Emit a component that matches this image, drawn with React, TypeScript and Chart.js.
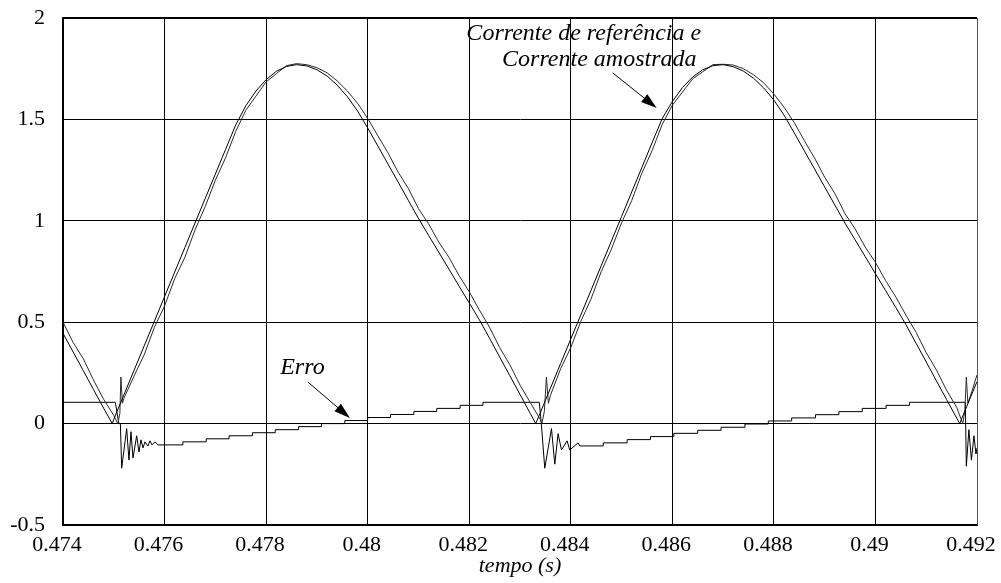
import React, { useEffect, useRef } from "react";
import { Chart, registerables } from "chart.js";

Chart.register(...registerables);

// ---------------- DATA ----------------
const xTicks = [0.474, 0.476, 0.478, 0.48, 0.482, 0.484, 0.486, 0.488, 0.49, 0.492];
const xTickLabels = ["0.474", "0.476", "0.478", "0.48", "0.482", "0.484", "0.486", "0.488", "0.49", "0.492"];
const yTicks = [-0.5, 0, 0.5, 1, 1.5, 2];
const yTickLabels = ["-0.5", "0", "0.5", "1", "1.5", "2"];

// Corrente de referência
const refTime = [
  0.4740, 0.4742, 0.4744, 0.4746, 0.4748, 0.47497, 0.4750, 0.4752, 0.4754, 0.4756,
  0.4758, 0.4760, 0.4762, 0.4764, 0.4766, 0.4768, 0.4770, 0.4772, 0.4774, 0.4776,
  0.4778, 0.4780, 0.4782, 0.4784, 0.4786, 0.4788, 0.4790, 0.4792, 0.4794, 0.4796,
  0.4798, 0.4800, 0.4802, 0.4804, 0.4806, 0.4808, 0.4810, 0.4812, 0.4814, 0.4816,
  0.4818, 0.4820, 0.4822, 0.4824, 0.4826, 0.4828, 0.4830, 0.4832, 0.48331, 0.4834,
  0.4836, 0.4838, 0.4840, 0.4842, 0.4844, 0.4846, 0.4848, 0.4850, 0.4852, 0.4854,
  0.4856, 0.4858, 0.4860, 0.4862, 0.4864, 0.4866, 0.4868, 0.4870, 0.4872, 0.4874,
  0.4876, 0.4878, 0.4880, 0.4882, 0.4884, 0.4886, 0.4888, 0.4890, 0.4892, 0.4894,
  0.4896, 0.4898, 0.4900, 0.4902, 0.4904, 0.4906, 0.4908, 0.4910, 0.4912, 0.4914,
  0.4916, 0.49166, 0.4918, 0.4920,
];
const refCurrent = [
  0.445, 0.353, 0.261, 0.168, 0.076, 0.0, 0.021, 0.142, 0.263, 0.384,
  0.505, 0.626, 0.747, 0.868, 0.989, 1.110, 1.230, 1.351, 1.472, 1.567,
  1.640, 1.696, 1.737, 1.761, 1.770, 1.764, 1.745, 1.714, 1.669, 1.612,
  1.542, 1.458, 1.369, 1.280, 1.191, 1.101, 1.012, 0.928, 0.845, 0.762,
  0.678, 0.595, 0.512, 0.421, 0.328, 0.236, 0.144, 0.051, 0.0, 0.054,
  0.175, 0.296, 0.417, 0.537, 0.658, 0.779, 0.900, 1.021, 1.142, 1.263,
  1.384, 1.504, 1.588, 1.657, 1.709, 1.745, 1.765, 1.770, 1.760, 1.738,
  1.703, 1.655, 1.595, 1.521, 1.434, 1.345, 1.256, 1.167, 1.078, 0.989,
  0.906, 0.823, 0.739, 0.656, 0.573, 0.488, 0.396, 0.304, 0.211, 0.119,
  0.027, 0.0, 0.086, 0.207,
];

// Corrente amostrada
const sampledTime = [
  0.4740, 0.4742, 0.4744, 0.4746, 0.4748, 0.4750, 0.47508, 0.47512, 0.47514, 0.47517,
  0.4752, 0.4754, 0.4756, 0.4758, 0.4760, 0.4762, 0.4764, 0.4766, 0.4768, 0.4770,
  0.4772, 0.4774, 0.4776, 0.4778, 0.4780, 0.4782, 0.4784, 0.4786, 0.4788, 0.4790,
  0.4792, 0.4794, 0.4796, 0.4798, 0.4800, 0.4802, 0.4804, 0.4806, 0.4808, 0.4810,
  0.4812, 0.4814, 0.4816, 0.4818, 0.4820, 0.4822, 0.4824, 0.4826, 0.4828, 0.4830,
  0.4832, 0.4834, 0.48343, 0.48348, 0.48352, 0.48356, 0.4836, 0.4838, 0.4840, 0.4842,
  0.4844, 0.4846, 0.4848, 0.4850, 0.4852, 0.4854, 0.4856, 0.4858, 0.4860, 0.4862,
  0.4864, 0.4866, 0.4868, 0.4870, 0.4872, 0.4874, 0.4876, 0.4878, 0.4880, 0.4882,
  0.4884, 0.4886, 0.4888, 0.4890, 0.4892, 0.4894, 0.4896, 0.4898, 0.4900, 0.4902,
  0.4904, 0.4906, 0.4908, 0.4910, 0.4912, 0.4914, 0.4916, 0.49172, 0.49176, 0.49179,
  0.49182, 0.4919, 0.4920,
];
const sampledCurrent = [
  0.50, 0.40, 0.32, 0.215, 0.12, 0.04, 0.0, 0.05, 0.23, 0.10,
  0.125, 0.235, 0.34, 0.475, 0.58, 0.715, 0.82, 0.955, 1.07, 1.20,
  1.31, 1.44, 1.545, 1.615, 1.685, 1.725, 1.765, 1.775, 1.770, 1.755,
  1.730, 1.690, 1.640, 1.580, 1.505, 1.420, 1.335, 1.240, 1.160, 1.060,
  0.985, 0.895, 0.820, 0.730, 0.650, 0.560, 0.475, 0.375, 0.290, 0.190,
  0.105, 0.02, 0.0, 0.06, 0.23, 0.10, 0.14, 0.27, 0.375, 0.505,
  0.615, 0.75, 0.86, 0.99, 1.10, 1.235, 1.345, 1.475, 1.570, 1.635,
  1.700, 1.735, 1.770, 1.772, 1.768, 1.750, 1.720, 1.680, 1.625, 1.560,
  1.485, 1.395, 1.310, 1.215, 1.135, 1.035, 0.960, 0.870, 0.795, 0.705,
  0.625, 0.535, 0.450, 0.350, 0.265, 0.165, 0.080, 0.0, 0.06, 0.23,
  0.10, 0.16, 0.24,
];

// Erro (staircase written out as corner points, oscillations as spikes)
const errorTime = [
  0.4740, 0.47503, 0.47510, 0.47513, 0.475156, 0.475254, 0.475299, 0.475339, 0.475378, 0.475451,
  0.475496, 0.475535, 0.475575, 0.475614, 0.475673, 0.475713, 0.475752, 0.475811, 0.47587,
  0.47636, 0.47636, 0.47682, 0.47682, 0.47727, 0.47727, 0.47773, 0.47773, 0.47818, 0.47818,
  0.47864, 0.47864, 0.47909, 0.47909, 0.47955, 0.47955, 0.48000, 0.48000, 0.48045, 0.48045,
  0.48091, 0.48091, 0.48136, 0.48136, 0.48182, 0.48182, 0.48227, 0.48227,
  0.48338, 0.48342, 0.483488, 0.48362, 0.483685, 0.48375, 0.483817, 0.483927, 0.48398, 0.484144,
  0.484177,
  0.48464, 0.48464, 0.48511, 0.48511, 0.48557, 0.48557, 0.48603, 0.48603, 0.48650, 0.48650,
  0.48696, 0.48696, 0.48743, 0.48743, 0.48789, 0.48789, 0.48835, 0.48835, 0.48882, 0.48882,
  0.48928, 0.48928, 0.48974, 0.48974, 0.49021, 0.49021, 0.49067, 0.49067,
  0.49177, 0.49179, 0.49184, 0.49189, 0.49194, 0.49198, 0.4920,
];
const errorValues = [
  0.105, 0.105, 0.0, 0.0, -0.22, -0.025, -0.18, -0.04, -0.17, -0.06,
  -0.14, -0.08, -0.12, -0.09, -0.11, -0.085, -0.105, -0.09, -0.105,
  -0.105, -0.090, -0.090, -0.075, -0.075, -0.060, -0.060, -0.045, -0.045, -0.030,
  -0.030, -0.015, -0.015, 0.000, 0.000, 0.015, 0.015, 0.030, 0.030, 0.045,
  0.045, 0.060, 0.060, 0.075, 0.075, 0.090, 0.090, 0.105,
  0.105, 0.0, -0.22, -0.025, -0.20, -0.05, -0.13, -0.085, -0.13, -0.095,
  -0.110,
  -0.110, -0.095, -0.095, -0.079, -0.079, -0.064, -0.064, -0.048, -0.048, -0.033,
  -0.033, -0.018, -0.018, -0.002, -0.002, 0.013, 0.013, 0.028, 0.028, 0.044,
  0.044, 0.059, 0.059, 0.075, 0.075, 0.090, 0.090, 0.105,
  0.105, -0.21, -0.03, -0.18, -0.06, -0.15, -0.12,
];

// Annotation texts (anchored in data units: time, value)
const noteTexts = ["Corrente de referência e", "Corrente amostrada", "Erro"];
const noteTimes = [0.484256, 0.484561, 0.478715];
const noteValues = [1.921, 1.793, 0.277];
// Arrows: start (time, value) -> tip (time, value)
const arrowFromTimes = [0.484827, 0.478823];
const arrowFromValues = [1.729, 0.205];
const arrowToTimes = [0.485693, 0.47965];
const arrowToValues = [1.556, 0.028];

const FONT = '"Liberation Serif", "Times New Roman", serif';

const framePlugin = {
  id: "frameAndNotes",
  afterDraw(chart: any) {
    const { ctx, chartArea, scales } = chart;
    const xs = scales.x;
    const ys = scales.y;
    ctx.save();
    // top frame
    ctx.strokeStyle = "#000";
    ctx.lineWidth = 2;
    ctx.beginPath();
    ctx.moveTo(chartArea.left, chartArea.top);
    ctx.lineTo(chartArea.right, chartArea.top);
    ctx.stroke();
    // right frame
    ctx.strokeStyle = "#555";
    ctx.lineWidth = 1;
    ctx.beginPath();
    ctx.moveTo(chartArea.right + 0.5, chartArea.top);
    ctx.lineTo(chartArea.right + 0.5, chartArea.bottom);
    ctx.stroke();

    // notes
    ctx.fillStyle = "#000";
    ctx.font = `italic 24px ${FONT}`;
    ctx.textAlign = "center";
    ctx.textBaseline = "middle";
    noteTexts.forEach((txt, i) => {
      ctx.fillText(txt, xs.getPixelForValue(noteTimes[i]), ys.getPixelForValue(noteValues[i]));
    });

    // arrows
    arrowFromTimes.forEach((_, i) => {
      const x0 = xs.getPixelForValue(arrowFromTimes[i]);
      const y0 = ys.getPixelForValue(arrowFromValues[i]);
      const x1 = xs.getPixelForValue(arrowToTimes[i]);
      const y1 = ys.getPixelForValue(arrowToValues[i]);
      const ang = Math.atan2(y1 - y0, x1 - x0);
      const len = 16;
      const hw = 5;
      ctx.strokeStyle = "#000";
      ctx.lineWidth = 1;
      ctx.beginPath();
      ctx.moveTo(x0, y0);
      ctx.lineTo(x1 - Math.cos(ang) * len * 0.5, y1 - Math.sin(ang) * len * 0.5);
      ctx.stroke();
      const bx = x1 - Math.cos(ang) * len;
      const by = y1 - Math.sin(ang) * len;
      ctx.beginPath();
      ctx.moveTo(x1, y1);
      ctx.lineTo(bx + Math.sin(ang) * hw, by - Math.cos(ang) * hw);
      ctx.lineTo(bx - Math.sin(ang) * hw, by + Math.cos(ang) * hw);
      ctx.closePath();
      ctx.fill();
    });
    ctx.restore();
  },
};

export default function App() {
  const canvasRef = useRef<HTMLCanvasElement | null>(null);

  useEffect(() => {
    if (!canvasRef.current) return;
    const toPts = (ts: number[], vs: number[]) => ts.map((t, i) => ({ x: t, y: vs[i] }));
    const chart = new Chart(canvasRef.current, {
      type: "line",
      data: {
        datasets: [
          {
            label: "Corrente de referência",
            data: toPts(refTime, refCurrent),
            borderColor: "#000",
            borderWidth: 1,
            pointRadius: 0,
            tension: 0,
          },
          {
            label: "Corrente amostrada",
            data: toPts(sampledTime, sampledCurrent),
            borderColor: "#2a2a2a",
            borderWidth: 1,
            pointRadius: 0,
            tension: 0,
          },
          {
            label: "Erro",
            data: toPts(errorTime, errorValues),
            borderColor: "#000",
            borderWidth: 1,
            pointRadius: 0,
            tension: 0,
          },
        ],
      },
      options: {
        responsive: false,
        animation: false,
        events: [],
        layout: { padding: { left: 0, right: 24, top: 18, bottom: 0 } },
        plugins: {
          legend: { display: false },
          tooltip: { enabled: false },
        },
        scales: {
          x: {
            type: "linear",
            min: 0.474,
            max: 0.492,
            afterBuildTicks: (scale: any) => {
              scale.ticks = xTicks.map((v) => ({ value: v }));
            },
            afterFit: (scale: any) => {
              scale.height = 58;
              scale.paddingLeft = 0;
              scale.paddingRight = 0;
            },
            ticks: {
              autoSkip: false,
              maxRotation: 0,
              minRotation: 0,
              padding: 7,
              labelOffset: -6,
              color: "#000",
              font: { family: FONT, size: 22 },
              callback: (_v: any, i: number) => xTickLabels[i],
            },
            grid: { color: "#000", lineWidth: 1, drawTicks: false },
            border: { color: "#000", width: 2 },
            title: {
              display: true,
              text: "tempo (s)",
              color: "#000",
              font: { family: FONT, size: 22, style: "italic" },
              padding: { top: 0, bottom: 4 },
            },
          },
          y: {
            type: "linear",
            min: -0.5,
            max: 2,
            afterBuildTicks: (scale: any) => {
              scale.ticks = yTicks.map((v) => ({ value: v }));
            },
            afterFit: (scale: any) => {
              scale.width = 63;
              scale.paddingTop = 0;
              scale.paddingBottom = 0;
            },
            ticks: {
              autoSkip: false,
              padding: 18,
              color: "#000",
              font: { family: FONT, size: 22 },
              callback: (_v: any, i: number) => yTickLabels[i],
            },
            grid: { color: "#000", lineWidth: 1, drawTicks: false },
            border: { color: "#000", width: 2 },
          },
        },
      },
      plugins: [framePlugin],
    } as any);
    return () => chart.destroy();
  }, []);

  return (
    <div style={{ position: "fixed", left: 0, top: 0, width: 1001, height: 583, background: "#fff" }}>
      <canvas ref={canvasRef} width={1001} height={583} style={{ width: 1001, height: 583, display: "block" }} />
    </div>
  );
}
